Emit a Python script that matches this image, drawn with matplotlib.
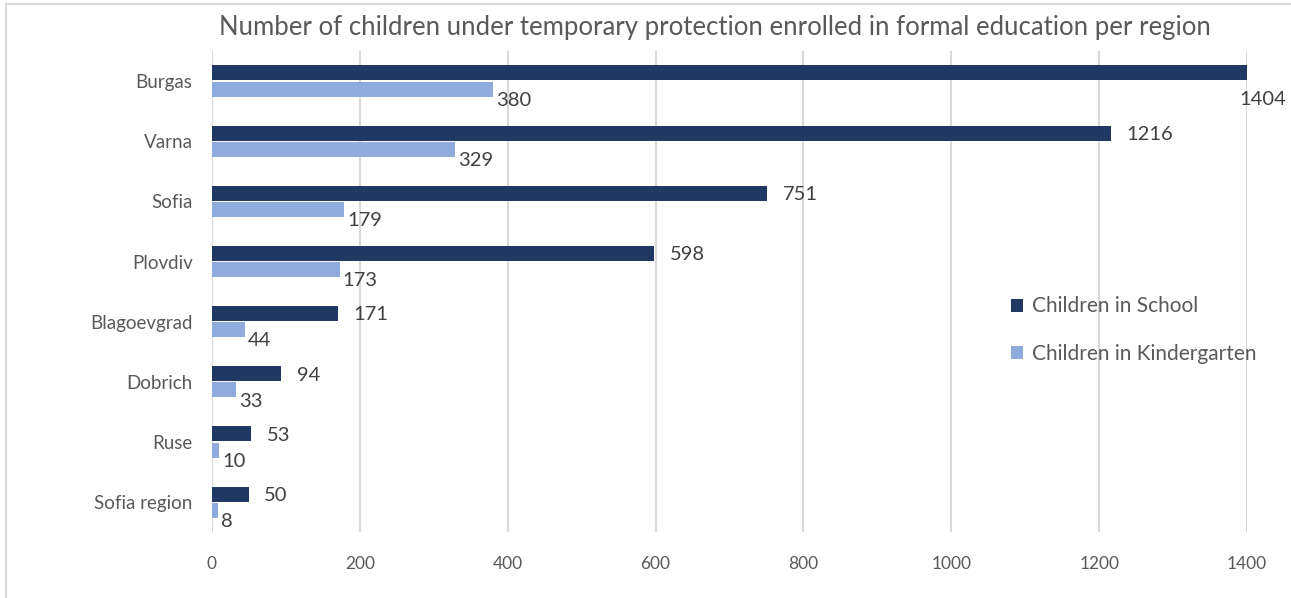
from matplotlib import pyplot as plt
from matplotlib.patches import Rectangle
import numpy as np

plt.rcParams['font.family'] = ['Lato', 'DejaVu Sans']

regions = ['Burgas', 'Varna', 'Sofia', 'Plovdiv', 'Blagoevgrad', 'Dobrich', 'Ruse', 'Sofia region']
school = [1404, 1216, 751, 598, 171, 94, 53, 50]
kindergarten = [380, 329, 179, 173, 44, 33, 10, 8]

dark = '#203864'
light = '#8faadc'
grey = '#595959'

fig = plt.figure(figsize=(12.91, 5.98), dpi=100)
ax = fig.add_axes([0.1642, 0.110, 0.966 - 0.1642, 0.9147 - 0.110])

y = np.arange(len(regions))
h = 0.25
b1 = ax.barh(y - 0.135, school, height=h, color=dark, label='Children in School', zorder=3)
b2 = ax.barh(y + 0.135, kindergarten, height=h, color=light, label='Children in Kindergarten', zorder=3)

# value labels (Excel style placement)
for rect, v in zip(b1, school):
    yc = rect.get_y() + rect.get_height() / 2
    if v > 1300:
        # no room on the right -> drop below the bar end
        ax.annotate(str(v), (v, yc), xytext=(-8, -19), textcoords='offset points',
                    ha='left', va='center', fontsize=14.5, color='#404040', annotation_clip=False)
    else:
        ax.annotate(str(v), (v, yc), xytext=(11, -1), textcoords='offset points',
                    ha='left', va='center', fontsize=14.5, color='#404040', annotation_clip=False)
for rect, v in zip(b2, kindergarten):
    yc = rect.get_y() + rect.get_height() / 2
    ax.annotate(str(v), (v, yc), xytext=(2, -8), textcoords='offset points',
                ha='left', va='center', fontsize=14.5, color='#404040', annotation_clip=False)

ax.set_xlim(0, 1400)
ax.set_ylim(len(regions) - 0.5, -0.5)
ax.set_xticks(np.arange(0, 1401, 200))
ax.set_yticks(y)
ax.set_yticklabels(regions)
ax.tick_params(axis='y', length=0, pad=14, labelsize=13.5, labelcolor=grey)
ax.tick_params(axis='x', length=0, pad=17, labelsize=12.5, labelcolor=grey)
ax.grid(axis='x', color='#d9d9d9', linewidth=1.5, zorder=0)
ax.set_axisbelow(True)
for s in ax.spines.values():
    s.set_visible(False)

fig.suptitle('Number of children under temporary protection enrolled in formal education per region',
             x=0.554, y=0.975, fontsize=18.5, color=grey)

ax.legend(loc='center left', bbox_to_anchor=(992 / 1291, 1 - 330 / 598), bbox_transform=fig.transFigure,
          frameon=False, fontsize=15, labelcolor=grey, handlelength=0.6, handleheight=0.6,
          handletextpad=0.4, labelspacing=1.3)

fig.patches.append(Rectangle((6 / 1291, -0.1), 1.5, 1 - 4 / 598 + 0.1, transform=fig.transFigure,
                             fill=False, edgecolor='#d9d9d9', linewidth=1.5))

fig.savefig('out.png', dpi=100)
